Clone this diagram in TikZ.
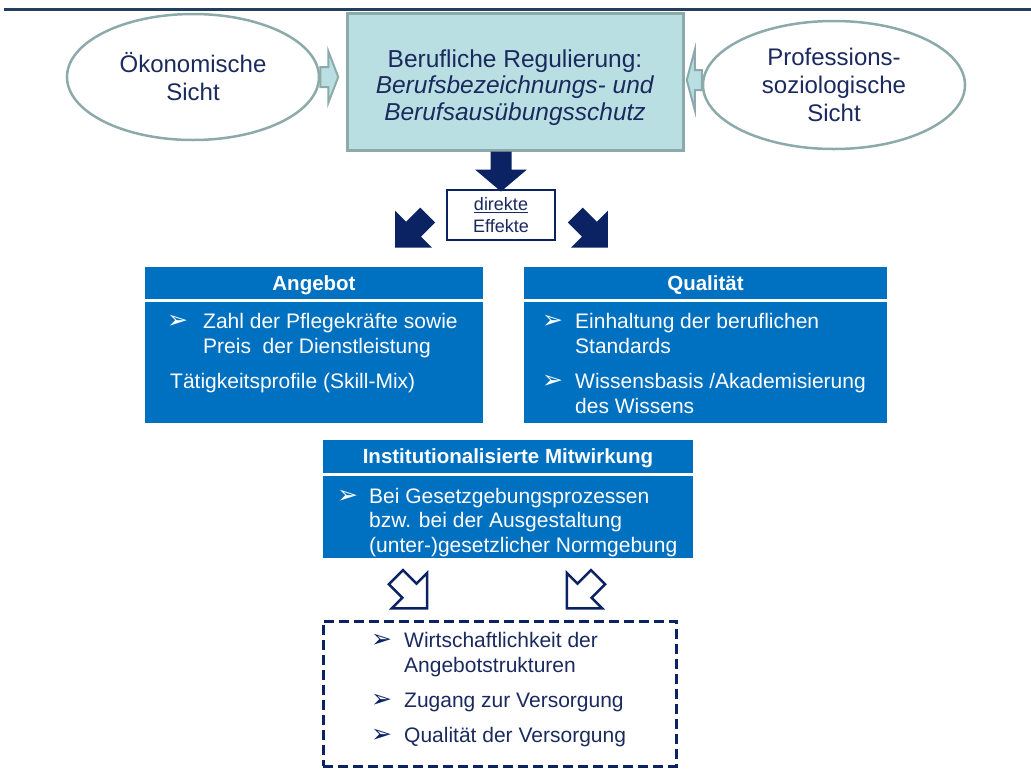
\documentclass[tikz,border=0pt]{standalone}
\usepackage{fontspec}
\setmainfont{Liberation Sans}
\newfontfamily\dingfont{DejaVu Sans}
\usetikzlibrary{shapes.geometric}

\definecolor{navytext}{HTML}{1B2A5E}
\definecolor{darkarrow}{HTML}{0B2263}
\definecolor{lightteal}{HTML}{B9DFE2}
\definecolor{tealgray}{HTML}{8DAAAB}
\definecolor{boxblue}{HTML}{0070C0}
\definecolor{rulecol}{HTML}{243F5E}

\newcommand{\bul}{{\dingfont\fontsize{25}{25}\selectfont ➢}}

\tikzset{
  pics/blockarrow/.style n args={4}{code={
    \path[pic actions] (0,-#4) -- (#1-#2,-#4) -- (#1-#2,-#3) -- (#1,0)
      -- (#1-#2,#3) -- (#1-#2,#4) -- (0,#4) -- cycle;
  }},
  oval/.style={ellipse, draw=tealgray, line width=2.5, fill=white, text=navytext,
    font=\fontsize{24}{28}\selectfont, align=center, inner sep=0},
  headbox/.style={rectangle, draw=tealgray, line width=3, fill=lightteal, inner sep=0},
  headtext/.style={text=navytext, font=\fontsize{24.5}{26.5}\selectfont, align=center, inner sep=0},
  effbox/.style={rectangle, draw=darkarrow, line width=2.5, fill=white, text=navytext,
    font=\fontsize{18}{22}\selectfont, align=center, inner sep=0},
  titlebar/.style={rectangle, fill=boxblue, text=white, inner sep=0, text depth=0pt,
    font=\bfseries\fontsize{20.5}{24}\selectfont},
  bodybox/.style={rectangle, fill=boxblue, inner sep=0},
  bodytext/.style={anchor=base west, inner sep=0, align=left, text=white,
    font=\fontsize{21}{25}\selectfont},
  bulnode/.style={anchor=base west, inner sep=0, text=white},
  dashbox/.style={rectangle, draw=darkarrow, line width=3, dash pattern=on 10 off 5},
}

\begin{document}
\begin{tikzpicture}[x=1pt,y=-1pt]
\useasboundingbox (0,0) rectangle (1031,769);

% rule at the top
\coordinate (rl) at (4,9);
\coordinate (rr) at (1031,9);
\draw[rulecol, line width=3] (rl) -- (rr);

% regulation and the two views
\node[headbox, minimum width=336, minimum height=137] (reg) at (515,81.5) {};
\node[headtext] (regtext) at ([yshift=-6]reg.center)
  {Berufliche Regulierung:\\\textit{Berufsbezeichnungs- und}\\\textit{Berufsausübungsschutz}};
\node[oval, minimum width=252, minimum height=126] (oek) at (193,77) {Ökonomische\\Sicht};
\node[oval, minimum width=262, minimum height=128] (prof) at (834,85) {Professions-\\soziologische\\Sicht};
\pic[fill=lightteal, draw=tealgray, line width=2] at (oek.east) {blockarrow={18}{10}{26}{10}};
\pic[fill=lightteal, draw=tealgray, line width=2, rotate=180] at ([yshift=5]prof.west) {blockarrow={15}{8}{30}{10}};

% direct effects
\node[effbox, minimum width=108, minimum height=50] (eff) at (501,215) {\underline{direkte}\\Effekte};
\pic[fill=darkarrow, rotate=-90] at (reg.south -| eff.north) {blockarrow={40}{22}{26}{10.5}};
\pic[fill=darkarrow, rotate=-135] at ([xshift=-18]eff.west) {blockarrow={46}{26}{26}{10.5}};
\pic[fill=darkarrow, rotate=-45] at ([xshift=19]eff.east) {blockarrow={46}{26}{26}{10.5}};

% Angebot
\node[titlebar, minimum width=338, minimum height=32] (angT) at (314,283) {Angebot};
\node[bodybox, minimum width=338, minimum height=121] (angB) at (314,362.5) {};
\node[bulnode] (angB1) at (167,328) {\bul};
\node[bodytext] (ang1) at (203,353) {Zahl der Pflegekräfte sowie\\Preis\ \ der Dienstleistung};
\node[bodytext] (ang2) at (170,388) {Tätigkeitsprofile (Skill-Mix)};

% Qualitaet
\node[titlebar, minimum width=363, minimum height=32] (qualT) at (705.5,283) {Qualität};
\node[bodybox, minimum width=363, minimum height=121] (qualB) at (705.5,362.5) {};
\node[bulnode] (qualB1) at (542,328) {\bul};
\node[bodytext] (qual1) at (575,353) {Einhaltung der beruflichen\\Standards};
\node[bulnode] (qualB2) at (542,388) {\bul};
\node[bodytext] (qual2) at (575,413) {Wissensbasis /Akademisierung\\des Wissens};

% Mitwirkung
\node[titlebar, minimum width=370, minimum height=33] (instT) at (508,456.5) {Institutionalisierte Mitwirkung};
\node[bodybox, minimum width=370, minimum height=82] (instB) at (508,517) {};
\node[bulnode] (instB1) at (337,503) {\bul};
\node[bodytext, font=\fontsize{21}{24.5}\selectfont] (inst1) at (369,552)
  {Bei Gesetzgebungsprozessen\\bzw. bei der Ausgestaltung\\(unter-)gesetzlicher Normgebung};

% outcomes
\node[dashbox, minimum width=353, minimum height=145] (out) at (499.5,693.5) {};
\pic[draw=darkarrow, fill=white, line width=2.5, rotate=-45] at ([xshift=-112,yshift=-19]instB.south) {blockarrow={44}{25}{25}{10}};
\pic[draw=darkarrow, fill=white, line width=2.5, rotate=-135] at ([xshift=90,yshift=-19]instB.south) {blockarrow={44}{25}{25}{10}};
\node[bulnode, text=darkarrow] (outB1) at (371,647) {\bul};
\node[bodytext, text=navytext] (out1) at (404,672) {Wirtschaftlichkeit der\\Angebotstrukturen};
\node[bulnode, text=darkarrow] (outB2) at (371,707) {\bul};
\node[bodytext, text=navytext] (out2) at (404,707) {Zugang zur Versorgung};
\node[bulnode, text=darkarrow] (outB3) at (371,742) {\bul};
\node[bodytext, text=navytext] (out3) at (404,742) {Qualität der Versorgung};
\end{tikzpicture}
\end{document}
